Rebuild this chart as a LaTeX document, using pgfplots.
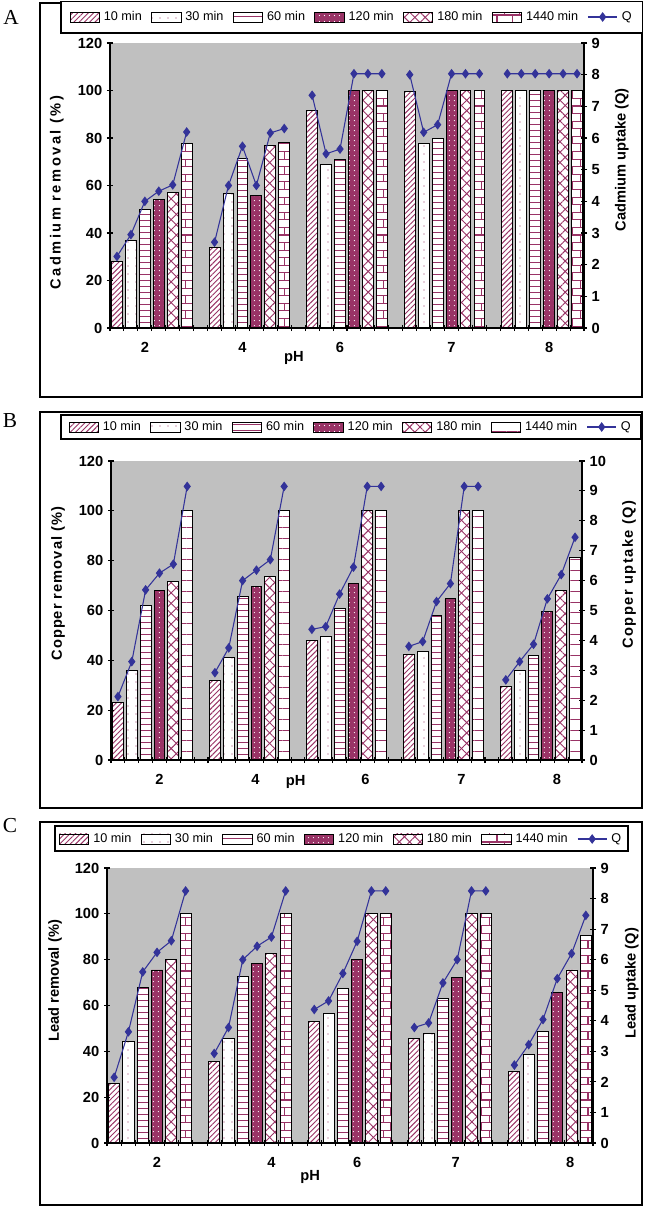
\documentclass[border=0pt]{standalone}
\usepackage{fontspec}
\setmainfont{Liberation Sans}
\newfontfamily\seriffont{Liberation Serif}
\usepackage{pgfplots}
\pgfplotsset{compat=1.18}
\usepackage{pgfplotstable}
\usetikzlibrary{patterns,patterns.meta}

\definecolor{plum}{RGB}{153,51,102}
\definecolor{qblue}{RGB}{51,51,153}
\definecolor{silver}{RGB}{192,192,192}

% bar fills
\pgfplotsset{
  bb/.style={ybar, bar width=0.78, bar shift=0pt, draw=black, line width=0.7pt},
  s10/.style={bb, fill=white, postaction={pattern={Lines[angle=45,distance=2.8pt,line width=0.7pt]}, pattern color=plum}},
  s30/.style={bb, fill=white, postaction={pattern={Dots[distance=6pt,radius=0.45pt]}, pattern color=plum}},
  s60/.style={bb, fill=white, postaction={pattern={Lines[angle=0,distance=4.5pt,line width=0.7pt]}, pattern color=plum}},
  s120/.style={bb, fill=plum, postaction={pattern={Dots[distance=4pt,radius=0.5pt]}, pattern color=white}},
  s180/.style={bb, fill=white, postaction={pattern={Lines[angle=45,distance=5.5pt,line width=0.7pt]}, pattern color=plum},
    postaction={pattern={Lines[angle=-45,distance=5.5pt,line width=0.7pt]}, pattern color=plum}},
  s1440/.style={bb, fill=white, postaction={pattern=bricks, pattern color=plum}},
  s1440b/.style={bb, fill=white, postaction={pattern={Lines[angle=0,distance=8pt,line width=0.7pt]}, pattern color=plum}},
  qline/.style={color=qblue, line width=0.8pt, mark=diamond*, mark size=3pt, mark options={solid, fill=qblue}},
  qleg/.style={qline, legend image code/.code={\draw[##1, mark repeat=2, mark phase=2] plot coordinates {(0pt,0pt) (11pt,0pt) (22pt,0pt)};}},
  common/.style={scale only axis, anchor=south west, xmin=-0.5, xmax=33.5, ymin=0,
    tick align=center, major tick length=4.5pt, tick style={black, line width=0.8pt},
    axis line style={line width=0.9pt},
    ticklabel style={font=\bfseries\fontsize{11}{12}\selectfont},
    /pgf/number format/assume math mode=true,
    label style={font=\bfseries\fontsize{11}{12}\selectfont},
    ylabel style={anchor=center}, xlabel style={anchor=center}},
  panel/.style={common, axis background/.style={fill=silver}, axis on top,
    axis x line*=bottom, axis y line*=left, ytick={0,20,...,120},
    xtick={-0.5,0.5,...,33.5}, xticklabels={},
    xticklabel style={yshift=-7pt},
    extra x tick style={major tick length=0pt},
    legend columns=7,
    legend style={draw=none, fill=none, anchor=center, font=\fontsize{9.5}{11}\selectfont,
      /tikz/every odd column/.append style={column sep=1pt},
      /tikz/every even column/.append style={column sep=5pt}},
    legend image code/.code={\draw[#1] (0pt,-3.75pt) rectangle (22pt,3.75pt);}},
  qaxis/.style={common, axis x line=none, axis y line*=right, xtick=\empty, unbounded coords=jump},
}

% Cadmium
\pgfplotstableread{
pos t10 t30 t60 t120 t180 t1440
0 28 37 50 54 57 77.5
7 34 56.5 71.5 56 76.8 78
14 91.5 69 70.8 100 100 100
21 99.5 77.5 80 100 100 100
28 100 100 100 100 100 100
}\cdbars
\pgfplotstableread{
x q
0 2.26
1 2.95
2 4.0
3 4.32
4 4.52
5 6.19
6 nan
7 2.71
8 4.5
9 5.74
10 4.5
11 6.16
12 6.3
13 nan
14 7.35
15 5.5
16 5.65
17 8.03
18 8.03
19 8.03
20 nan
21 8.0
22 6.18
23 6.42
24 8.03
25 8.03
26 8.03
27 nan
28 8.03
29 8.03
30 8.03
31 8.03
32 8.03
33 8.03
}\cdq

% Copper
\pgfplotstableread{
pos t10 t30 t60 t120 t180 t1440
0 23 36 62 68 71.5 100
7 32 41.3 65.5 69.8 73.5 100
14 48 49.4 60.7 70.8 100 100
21 42.2 43.4 58 64.7 100 100
28 29.5 36 42.1 59.5 68 81.3
}\cubars
\pgfplotstableread{
x q
0 2.12
1 3.29
2 5.69
3 6.25
4 6.55
5 9.15
6 nan
7 2.92
8 3.75
9 6.0
10 6.35
11 6.7
12 9.15
13 nan
14 4.37
15 4.46
16 5.55
17 6.45
18 9.15
19 9.15
20 nan
21 3.8
22 3.96
23 5.3
24 5.9
25 9.15
26 9.15
27 nan
28 2.68
29 3.29
30 3.87
31 5.39
32 6.2
33 7.45
}\cuq

% Lead
\pgfplotstableread{
pos t10 t30 t60 t120 t180 t1440
0 26 44.5 68 75.5 80.2 100
7 35.4 45.8 72.6 78.5 82.5 100
14 53.2 56.6 67.4 80 100 100
21 45.6 48 63.2 72.4 100 100
28 31.3 38.7 48.5 65.6 75.5 90.5
}\pbbars
\pgfplotstableread{
x q
0 2.15
1 3.64
2 5.6
3 6.24
4 6.62
5 8.25
6 nan
7 2.93
8 3.78
9 6.0
10 6.44
11 6.74
12 8.25
13 nan
14 4.37
15 4.65
16 5.55
17 6.6
18 8.25
19 8.25
20 nan
21 3.78
22 3.93
23 5.24
24 6.0
25 8.25
26 8.25
27 nan
28 2.55
29 3.22
30 4.04
31 5.38
32 6.2
33 7.45
}\pbq

\begin{document}
\begin{tikzpicture}
\begin{scope}[x=0.75pt, y=-0.75pt]
  \path[use as bounding box] (0,0) rectangle (644,1210);
  \draw[line width=0.8pt] (40,3) rectangle (642,397);
  \draw[line width=0.8pt] (40,412) rectangle (642,808);
  \draw[line width=0.8pt] (40,822) rectangle (642,1205);
  \draw[line width=0.8pt, fill=white] (61,1.5) rectangle (642.5,33);
  \draw[line width=0.8pt, fill=white] (61,415) rectangle (641,439);
  \draw[line width=0.8pt, fill=white] (55,826) rectangle (628,851);
  \node[font=\seriffont\fontsize{16}{16}\selectfont] at (11,17) {A};
  \node[font=\seriffont\fontsize{16}{16}\selectfont] at (10,421) {B};
  \node[font=\seriffont\fontsize{16}{16}\selectfont] at (10,826) {C};
\end{scope}

% ---- A: cadmium
\begin{axis}[panel, at={(82.5pt,-246pt)}, width=355.5pt, height=213.75pt, ymax=120,
  extra x ticks={2,9,16,24,31}, extra x tick labels={2,4,6,7,8},
  xlabel={pH}, xlabel style={at={(axis description cs:0.388,-0.105)}},
  ylabel={\addfontfeature{LetterSpace=17}Cadmium removal (\%)},
  ylabel style={at={(axis description cs:-0.112,0.475)}},
  legend style={at={(axis description cs:0.5105,1.0912)}}]
\addplot[s10] table[x expr=\thisrow{pos}, y=t10] {\cdbars};
\addplot[s30] table[x expr=\thisrow{pos}+1, y=t30] {\cdbars};
\addplot[s60] table[x expr=\thisrow{pos}+2, y=t60] {\cdbars};
\addplot[s120] table[x expr=\thisrow{pos}+3, y=t120] {\cdbars};
\addplot[s180] table[x expr=\thisrow{pos}+4, y=t180] {\cdbars};
\addplot[s1440] table[x expr=\thisrow{pos}+5, y=t1440] {\cdbars};
\addlegendimage{qleg}
\legend{10 min, 30 min, 60 min, 120 min, 180 min, 1440 min, Q}
\end{axis}
\begin{axis}[qaxis, at={(82.5pt,-246pt)}, width=355.5pt, height=213.75pt, ymax=9, ytick={0,...,9},
  ylabel={Cadmium uptake (Q)}, ylabel style={at={(axis description cs:1.08,0.59)}}]
\addplot[qline] table[x=x, y=q] {\cdq};
\end{axis}

% ---- B: copper
\begin{axis}[panel, at={(83.25pt,-570pt)}, width=353.25pt, height=224.25pt, ymax=120,
  extra x ticks={3,9.93,17.86,24.8,31.7}, extra x tick labels={2,4,6,7,8},
  xlabel={pH}, xlabel style={at={(axis description cs:0.392,-0.074)}},
  ylabel={\addfontfeature{LetterSpace=7}Copper removal (\%)},
  ylabel style={at={(axis description cs:-0.1125,0.59)}},
  legend style={at={(axis description cs:0.5096,1.1137)}}]
\addplot[s10] table[x expr=\thisrow{pos}, y=t10] {\cubars};
\addplot[s30] table[x expr=\thisrow{pos}+1, y=t30] {\cubars};
\addplot[s60] table[x expr=\thisrow{pos}+2, y=t60] {\cubars};
\addplot[s120] table[x expr=\thisrow{pos}+3, y=t120] {\cubars};
\addplot[s180] table[x expr=\thisrow{pos}+4, y=t180] {\cubars};
\addplot[s1440b] table[x expr=\thisrow{pos}+5, y=t1440] {\cubars};
\addlegendimage{qleg}
\legend{10 min, 30 min, 60 min, 120 min, 180 min, 1440 min, Q}
\end{axis}
\begin{axis}[qaxis, at={(83.25pt,-570pt)}, width=353.25pt, height=224.25pt, ymax=10, ytick={0,...,10},
  ylabel={\addfontfeature{LetterSpace=10}Copper uptake (Q)}, ylabel style={at={(axis description cs:1.10,0.62)}}]
\addplot[qline] table[x=x, y=q] {\cuq};
\end{axis}

% ---- C: lead
\begin{axis}[panel, at={(80.25pt,-857.25pt)}, width=364.5pt, height=206.25pt, ymax=120,
  extra x ticks={3,11,17,23.9,31.9}, extra x tick labels={2,4,6,7,8},
  xlabel={pH}, xlabel style={at={(axis description cs:0.418,-0.124)}},
  ylabel={Lead removal (\%)},
  ylabel style={at={(axis description cs:-0.107,0.59)}},
  legend style={at={(axis description cs:0.4825,1.1055)}}]
\addplot[s10] table[x expr=\thisrow{pos}, y=t10] {\pbbars};
\addplot[s30] table[x expr=\thisrow{pos}+1, y=t30] {\pbbars};
\addplot[s60] table[x expr=\thisrow{pos}+2, y=t60] {\pbbars};
\addplot[s120] table[x expr=\thisrow{pos}+3, y=t120] {\pbbars};
\addplot[s180] table[x expr=\thisrow{pos}+4, y=t180] {\pbbars};
\addplot[s1440] table[x expr=\thisrow{pos}+5, y=t1440] {\pbbars};
\addlegendimage{qleg}
\legend{10 min, 30 min, 60 min, 120 min, 180 min, 1440 min, Q}
\end{axis}
\begin{axis}[qaxis, at={(80.25pt,-857.25pt)}, width=364.5pt, height=206.25pt, ymax=9, ytick={0,...,9},
  ylabel={Lead uptake (Q)}, ylabel style={at={(axis description cs:1.08,0.58)}}]
\addplot[qline] table[x=x, y=q] {\pbq};
\end{axis}
\end{tikzpicture}
\end{document}
